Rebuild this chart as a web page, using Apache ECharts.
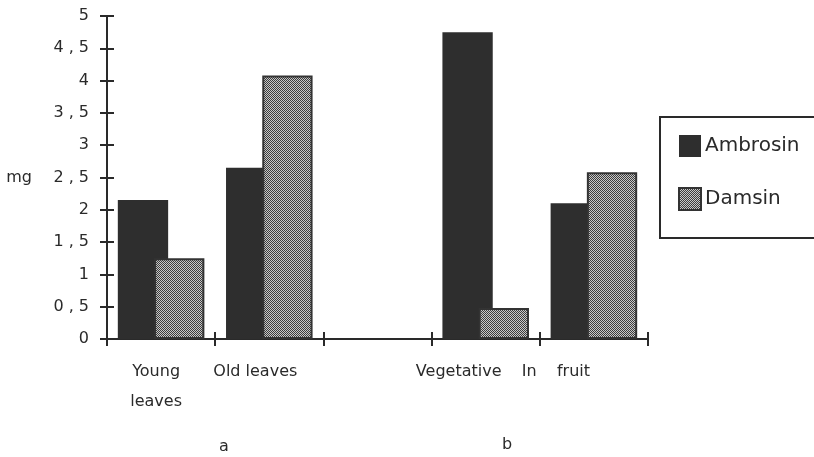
<!DOCTYPE html>
<html>
<head>
<meta charset="utf-8">
<script src="https://cdn.jsdelivr.net/npm/echarts@6/dist/echarts.min.js"></script>
<style>html,body{margin:0;padding:0;background:#fff}#c{width:814px;height:457px}</style>
</head>
<body>
<div id="c"></div>
<script>
const categories = ['Young\nleaves', 'Old leaves', '', 'Vegetative', 'In    fruit'];
const ambrosin = [2.15, 2.65, null, 4.75, 2.1];
const damsin = [1.25, 4.08, null, 0.48, 2.58];
const seriesNames = ['Ambrosin', 'Damsin'];
const groupLabels = ['a', 'b'];
const yAxisName = 'mg';

const FONT = "'DejaVu Sans', 'Liberation Sans', Arial, sans-serif";
const INK = '#2a2a2a';

// dithered pattern for Damsin
const pc = document.createElement('canvas');
pc.width = 2; pc.height = 2;
const pctx = pc.getContext('2d');
pctx.fillStyle = '#c8c8c8'; pctx.fillRect(0, 0, 2, 2);
pctx.fillStyle = '#3c3c3c'; pctx.fillRect(0, 0, 1, 1); pctx.fillRect(1, 1, 1, 1);

const labelShift = [10, 28, 0, 54, 76];
const xData = categories.map((c, i) => ({ value: c, textStyle: { padding: [0, labelShift[i], 0, 0] } }));

const chart = echarts.init(document.getElementById('c'), null, { renderer: 'canvas' });
chart.setOption({
  animation: false,
  backgroundColor: '#fff',
  textStyle: { fontFamily: FONT },
  grid: { left: 107, right: 166, top: 16, bottom: 118, containLabel: false },
  legend: {
    orient: 'vertical', left: 660, top: 117,
    padding: [18, 60, 27, 18],
    itemWidth: 22, itemHeight: 22, itemGap: 30,
    borderColor: INK, borderWidth: 2,
    data: seriesNames,
    textStyle: { fontFamily: FONT, fontSize: 20, color: INK, padding: [0, 0, 0, -1] },
    icon: 'rect'
  },
  xAxis: [{
    type: 'category', data: xData, position: 'bottom',
    axisLine: { lineStyle: { color: INK, width: 2 } },
    axisTick: { show: true, length: 7, lineStyle: { color: INK, width: 2 } },
    axisLabel: { interval: 0, margin: 18, fontSize: 16, lineHeight: 30, color: INK, fontFamily: FONT }
  }, {
    type: 'category', data: categories, position: 'bottom',
    axisLine: { show: false },
    axisTick: { show: true, inside: true, length: 7, lineStyle: { color: INK, width: 2 } },
    axisLabel: { show: false }
  }],
  yAxis: [{
    type: 'value', min: 0, max: 5, interval: 0.5,
    name: yAxisName, nameLocation: 'middle', nameRotate: 0, nameGap: 75,
    nameTextStyle: { fontSize: 16, color: INK, fontFamily: FONT },
    splitLine: { show: false },
    axisLine: { show: true, lineStyle: { color: INK, width: 2 } },
    axisTick: { show: true, length: 7, lineStyle: { color: INK, width: 2 } },
    axisLabel: {
      margin: 18, fontSize: 16, color: INK, fontFamily: FONT,
      formatter: v => { const s = String(v).split('.'); return s.length > 1 ? s[0] + ' , ' + s[1] : s[0]; }
    }
  }, {
    type: 'value', min: 0, max: 5, interval: 0.5, position: 'left',
    splitLine: { show: false },
    axisLine: { show: false },
    axisTick: { show: true, inside: true, length: 7, lineStyle: { color: INK, width: 2 } },
    axisLabel: { show: false }
  }],
  series: [{
    name: seriesNames[0], type: 'bar', data: ambrosin,
    barGap: '-28%', barCategoryGap: '20%',
    itemStyle: { color: '#2e2e2e' }
  }, {
    name: seriesNames[1], type: 'bar', data: damsin,
    itemStyle: { color: { image: pc, repetition: 'repeat' }, borderColor: '#333', borderWidth: 2 }
  }],
  graphic: [
    { type: 'text', left: 219, top: 439, style: { text: groupLabels[0], font: '16px ' + FONT, fill: INK } },
    { type: 'text', left: 502, top: 437, style: { text: groupLabels[1], font: '16px ' + FONT, fill: INK } }
  ]
});
</script>
</body>
</html>
